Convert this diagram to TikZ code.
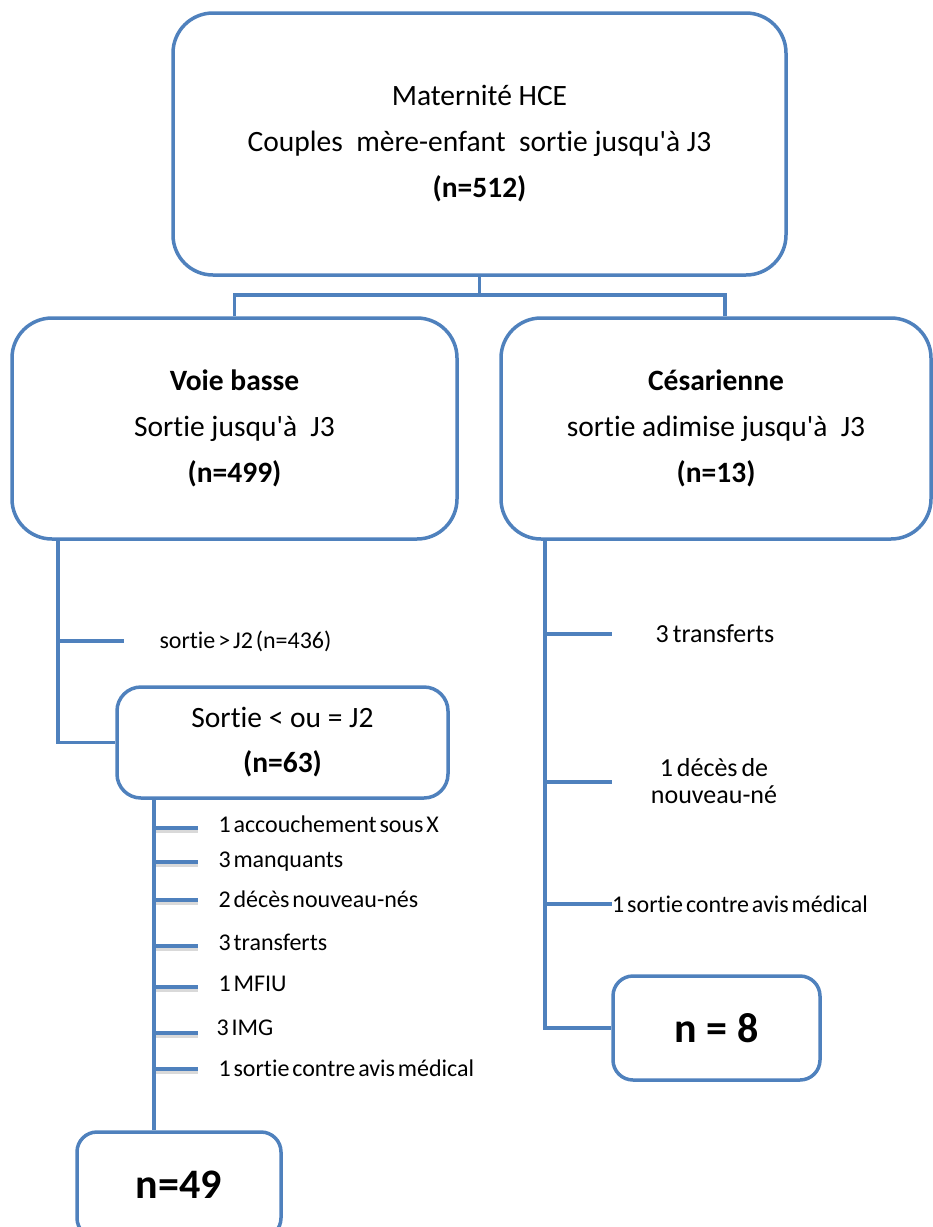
\documentclass[tikz,border=0pt]{standalone}
\usepackage{fontspec}
\setmainfont[Ligatures={NoCommon,TeXOff}]{Carlito}
\definecolor{lineblue}{HTML}{4F81BD}
\newcommand\tightsp{\spaceskip=0.12em\relax}
\newcommand\midsp{\spaceskip=0.15em\relax}
\begin{document}
\begin{tikzpicture}[x=1pt,y=-1pt,
  box/.style={draw=lineblue, line width=3.5pt, rounded corners=#1, inner sep=0pt, align=center, fill=white},
  box/.default=40,
  conn/.style={draw=lineblue, line width=3.5pt},
  tickshadow/.style={draw=gray!30, line width=3pt},
  big/.style={font=\fontsize{29.5}{46}\selectfont},
  small/.style={font=\fontsize{24}{27}\selectfont\tightsp},
  mid/.style={font=\fontsize{26}{27}\selectfont\midsp, align=center},
  huge/.style={font=\fontsize{42}{44}\selectfont\bfseries}
]
\useasboundingbox (0,0) rectangle (933,1227);
\clip (0,0) rectangle (933,1227);

\coordinate (j) at (479.5,295);

% boxes
\node[box=40, minimum width=613, minimum height=262, big] (top) at (479.5,144)
  {Maternité HCE\\Couples\ \ mère-enfant\ \ sortie jusqu'à J3\\\textbf{(n=512)}};
\node[box=40, minimum width=445, minimum height=221, big] (voie) at (234.5,428.5)
  {\textbf{Voie basse}\\Sortie jusqu'à\ \ J3\\\textbf{(n=499)}};
\node[box=40, minimum width=430, minimum height=221, big] (ces) at (716,428.5)
  {\textbf{Césarienne}\\sortie adimise jusqu'à\ \ J3\\\textbf{(n=13)}};
\node[box=24, minimum width=331, minimum height=111, font=\fontsize{29.5}{45}\selectfont] (sortie) at (282.5,742.5)
  {Sortie < ou = J2\\\textbf{(n=63)}};
\node[box=20, minimum width=207, minimum height=104, huge] (n8) at (716.5,1028) {n = 8};
\node[box=20, minimum width=204, minimum height=106, huge] (n49) at (179,1185) {n=49};

\draw[conn] (top.south) -- (j);
\draw[conn] (j) -| (voie.north);
\draw[conn] (j) -| ([xshift=9]ces.north);

% left branch
\coordinate (lvx) at (58,0);
\draw[conn] (voie.south -| lvx) |- (sortie.west);
\coordinate (t0a) at (58,641);
\coordinate (t0b) at (124,641);
\draw[conn] (t0a) -- (t0b);
\node[small, anchor=west] (s436) at (156,641) {sortie > J2 (n=436)};

% left lower list
\coordinate (lbx) at (154,0);
\foreach \y/\name in {828/a,862/b,900/c,946/d,987/e,1033/f,1069/g}{
  \coordinate (l\name a) at (154,\y);
  \coordinate (l\name b) at (198,\y);
  \draw[tickshadow] ([yshift=-3.5]l\name a) -- ([yshift=-3.5]l\name b);
}
\draw[conn] (sortie.south -| lbx) -- (n49.north -| lbx);
\foreach \name in {a,b,c,d,e,f,g}{
  \draw[conn] (l\name a) -- (l\name b);
}
\node[small, anchor=west] (la) at (215,824) {1 accouchement sous X};
\node[small, anchor=west] (lb) at (215,862) {3 manquants};
\node[small, anchor=west] (lc) at (215,899) {2 décès nouveau-nés};
\node[small, anchor=west] (ld) at (215,942) {3 transferts};
\node[small, anchor=west] (le) at (215,984) {1 MFIU};
\node[small, anchor=west] (lf) at (213,1028) {3 IMG};
\node[small, anchor=west] (lg) at (215,1068) {1 sortie contre avis médical};

% right branch
\coordinate (rvx) at (545,0);
\draw[conn] (ces.south -| rvx) |- (n8.west);
\coordinate (r1a) at (545,634);
\coordinate (r1b) at (612,634);
\coordinate (r2a) at (545,782);
\coordinate (r2b) at (612,782);
\coordinate (r3a) at (545,904);
\coordinate (r3b) at (612,904);
\draw[conn] (r1a) -- (r1b);
\draw[conn] (r2a) -- (r2b);
\draw[conn] (r3a) -- (r3b);
\node[mid] (rt1) at (715,634) {3 transferts};
\node[mid] (rt2) at (714,781) {1 décès de\\nouveau-né};
\node[small, anchor=west, inner sep=0pt] (rt3) at (r3b) {1 sortie contre avis médical};
\end{tikzpicture}
\end{document}
